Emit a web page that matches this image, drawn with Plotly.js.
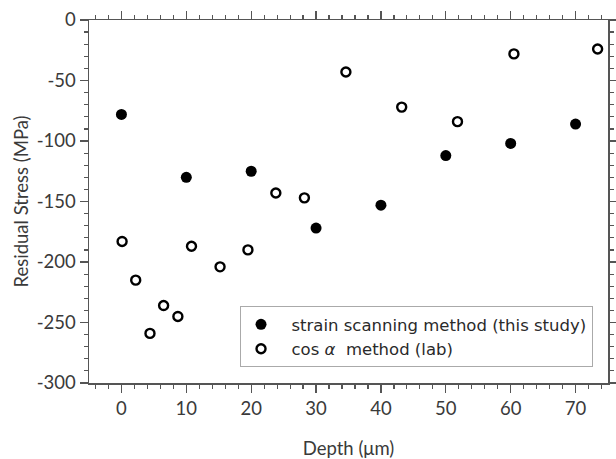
<!DOCTYPE html>
<html>
<head>
<meta charset="utf-8">
<script src="https://cdn.plot.ly/plotly-3.0.1.min.js"></script>
<style>html,body{margin:0;padding:0;background:#fff;}#chart{width:616px;height:459px;}</style>
</head>
<body>
<div id="chart"></div>
<script>
// Strain scanning method (this study)
const strainDepth = [0, 10, 20, 30, 40, 50, 60, 70];
const strainStress = [-78, -130, -125, -172, -153, -112, -102, -86];
// cos alpha method (lab)
const cosDepth = [0.1, 2.2, 4.4, 6.5, 8.7, 10.8, 15.2, 19.5, 23.8, 28.2, 34.6, 43.2, 51.8, 60.5, 73.4];
const cosStress = [-183, -215, -259, -236, -245, -187, -204, -190, -143, -147, -43, -72, -84, -28, -24];
// tick labels
const xTickVals = [0, 10, 20, 30, 40, 50, 60, 70];
const xTickText = ['0', '10', '20', '30', '40', '50', '60', '70'];
const yTickVals = [0, -50, -100, -150, -200, -250, -300];
const yTickText = ['0', '-50', '-100', '-150', '-200', '-250', '-300'];
const strainName = '\u00a0\u00a0strain scanning method (this study)';
const cosName = '\u00a0\u00a0cos <i>α</i>  method (lab)';
const xTitle = 'Depth (μm)';
const yTitle = 'Residual Stress (MPa)';

const axisCommon = {
  showline: true, linecolor: '#555', linewidth: 1.5, mirror: 'ticks',
  ticks: 'outside', ticklen: 8, tickwidth: 1.3, tickcolor: '#555',
  showgrid: false, zeroline: false,
  tickfont: {family: 'Lato, sans-serif', size: 18.5, color: '#3a3a3a'},
  minor: {ticks: 'outside', ticklen: 4, tickwidth: 1.2, tickcolor: '#555'}
};

const data = [
  {x: strainDepth, y: strainStress, type: 'scatter', mode: 'markers', name: strainName,
   marker: {symbol: 'circle', size: 11, color: '#000'}},
  {x: cosDepth, y: cosStress, type: 'scatter', mode: 'markers', name: cosName,
   marker: {symbol: 'circle-open', size: 9, color: '#000', line: {width: 2.4, color: '#000'}}}
];

const layout = {
  width: 616, height: 459,
  margin: {l: 89, r: 8, t: 20, b: 76},
  paper_bgcolor: '#fff', plot_bgcolor: '#fff',
  showlegend: true,
  legend: {x: 0.291, y: 0.212, xanchor: 'left', yanchor: 'top',
    bgcolor: '#fff', bordercolor: '#aaa', borderwidth: 1,
    font: {family: '"DejaVu Sans", sans-serif', size: 16.5, color: '#2a2a2a'},
    itemwidth: 30, tracegroupgap: 0},
  xaxis: Object.assign({}, axisCommon, {
    range: [-5, 75], tickmode: 'array', tickvals: xTickVals, ticktext: xTickText,
    minor: Object.assign({}, axisCommon.minor, {dtick: 2, tick0: 0}),
    title: {text: xTitle, font: {family: 'Lato, sans-serif', size: 18.5, color: '#3a3a3a'}, standoff: 28}
  }),
  yaxis: Object.assign({}, axisCommon, {
    range: [-300, 0], tickmode: 'array', tickvals: yTickVals, ticktext: yTickText,
    minor: Object.assign({}, axisCommon.minor, {dtick: 10, tick0: 0}),
    title: {text: yTitle, font: {family: 'Lato, sans-serif', size: 18.5, color: '#3a3a3a'}, standoff: 3}
  })
};

Plotly.newPlot('chart', data, layout, {displayModeBar: false, staticPlot: true});
</script>
</body>
</html>
